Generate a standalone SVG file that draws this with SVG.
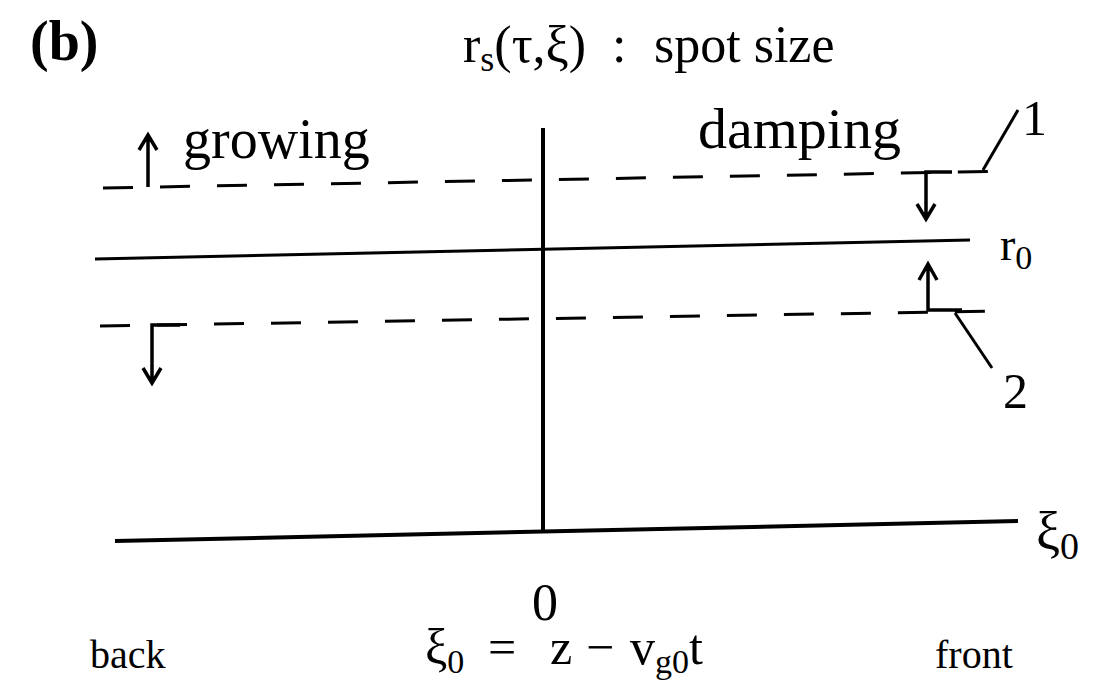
<svg xmlns="http://www.w3.org/2000/svg" width="1096" height="684" viewBox="0 0 1096 684" font-family="'Liberation Serif', 'Times New Roman', 'DejaVu Serif', serif">
<style>
text{font-family:'Liberation Serif','Times New Roman','DejaVu Serif',serif;fill:#000}
.ln{stroke:#000;fill:none;stroke-width:3}
.ax{stroke:#000;fill:none;stroke-width:4}
.ds{stroke:#000;fill:none;stroke-width:3;stroke-dasharray:30 27}
.ar{stroke:#000;fill:none;stroke-width:3.5}
</style>
<rect width="1096" height="684" fill="#fff"/>
<g id="title">
<text x="30" y="60" font-size="56" font-weight="bold">(b)</text>
<text x="463" y="62" font-size="52">r<tspan font-size="36" dy="9">s</tspan><tspan dy="-9">(τ,ξ)</tspan></text>
<text x="612" y="62" font-size="52">:</text>
<text x="654" y="62" font-size="52">spot size</text>
</g>
<g id="axes">
<line class="ax" x1="543" y1="128" x2="543" y2="533"/>
<line class="ax" x1="115" y1="541" x2="1018" y2="521"/>
<text x="1036" y="550" font-size="54">ξ<tspan font-size="38" dy="9">0</tspan></text>
<text x="545" y="620" font-size="52" text-anchor="middle">0</text>
</g>
<g id="lines">
<line class="ln" x1="95" y1="259" x2="970" y2="240"/>
<text x="1000" y="260" font-size="46">r<tspan font-size="34" dy="9">0</tspan></text>
<line class="ds" x1="103" y1="188" x2="1012" y2="171"/>
<line class="ds" x1="100" y1="326" x2="1000" y2="311"/>
</g>
<g id="arrows">
<path class="ar" d="M148 187 V138 M139 150 L148 135 L157 150"/>
<path class="ar" d="M180 325 H152 V383 M143 368 L152 383 L161 368"/>
<path class="ar" d="M952 172 H926 V219 M917 204 L926 219 L935 204"/>
<path class="ar" d="M962 310 H928 V265 M919 280 L928 264 L937 280"/>
<path class="ln" d="M983 170 L1018 110"/>
<path class="ln" d="M955 313 L992 368"/>
</g>
<g id="labels">
<text x="183" y="158" font-size="56">growing</text>
<text x="698" y="148" font-size="58">damping</text>
<text x="1022" y="135" font-size="50">1</text>
<text x="1003" y="408" font-size="50">2</text>
<text x="90" y="668" font-size="40">back</text>
<text x="935" y="668" font-size="40">front</text>
<text y="664" font-size="50"><tspan x="425">ξ</tspan><tspan font-size="34" dy="9">0</tspan><tspan x="488" dy="-9">=</tspan><tspan x="550">z</tspan><tspan x="586">−</tspan><tspan x="630">v</tspan><tspan font-size="34" dy="9">g0</tspan><tspan dy="-9">t</tspan></text>
</g>
</svg>
